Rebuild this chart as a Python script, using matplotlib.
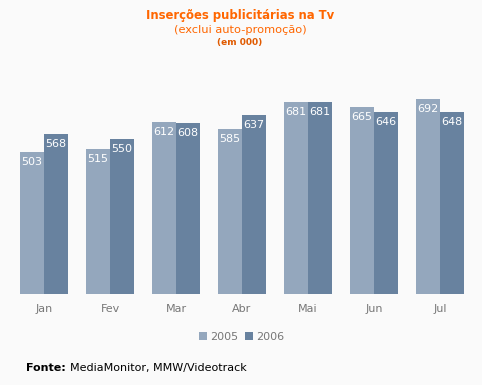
import matplotlib
matplotlib.use("Agg")
import matplotlib.pyplot as plt
import numpy as np

months = ["Jan", "Fev", "Mar", "Abr", "Mai", "Jun", "Jul"]
series_names = ["2005", "2006"]
v2005 = [503, 515, 612, 585, 681, 665, 692]
v2006 = [568, 550, 608, 637, 681, 646, 648]

bg = "#fafafa"
c05 = "#94a7bd"
c06 = "#68829f"
orange = "#ff6600"

W, H = 482, 385
fig = plt.figure(figsize=(W/100, H/100), dpi=100, facecolor=bg)
L, R, B, T = 11, 473, 294, 83
ax = fig.add_axes([L/W, 1-B/H, (R-L)/W, (B-T)/H])
ax.set_facecolor(bg)
x = np.arange(len(months))
w = 0.364
b1 = ax.bar(x - w/2, v2005, w, color=c05, label=series_names[0])
b2 = ax.bar(x + w/2, v2006, w, color=c06, label=series_names[1])
ax.set_xlim(-0.5, 6.5)
ax.set_ylim(0, 750)
for s in ax.spines.values():
    s.set_visible(False)
ax.set_yticks([])
ax.set_xticks(x)
ax.set_xticklabels(months, color="#777777", fontsize=8)
ax.tick_params(axis="x", length=0, pad=7.5)

for bars, vals in ((b1, v2005), (b2, v2006)):
    for rect, v in zip(bars, vals):
        ax.annotate(str(v), (rect.get_x() + rect.get_width()/2, v),
                    xytext=(0, -3.5), textcoords="offset points",
                    ha="center", va="top", color="white", fontsize=8)

fig.text(240/W, 1-16/H, "Inserções publicitárias na Tv", ha="center", va="center",
         color=orange, fontsize=8.4, fontweight="bold")
fig.text(240/W, 1-30/H, "(exclui auto-promoção)", ha="center", va="center",
         color=orange, fontsize=8.2)
fig.text(240/W, 1-43/H, "(em 000)", ha="center", va="center",
         color="#e05a00", fontsize=6.5, fontweight="bold")

leg = fig.legend(loc="center", bbox_to_anchor=(242/W, 1-337/H), ncol=2, frameon=False,
                 fontsize=8, handlelength=0.7, handleheight=0.7, handletextpad=0.3,
                 columnspacing=0.6)
for t in leg.get_texts():
    t.set_color("#777777")

fig.text(26/W, 1-368/H, "Fonte:", ha="left", va="center", color="black",
         fontsize=8, fontweight="bold")
fig.text(70/W, 1-368/H, "MediaMonitor, MMW/Videotrack", ha="left", va="center",
         color="black", fontsize=8)

fig.savefig("out.png", dpi=100, facecolor=bg)
